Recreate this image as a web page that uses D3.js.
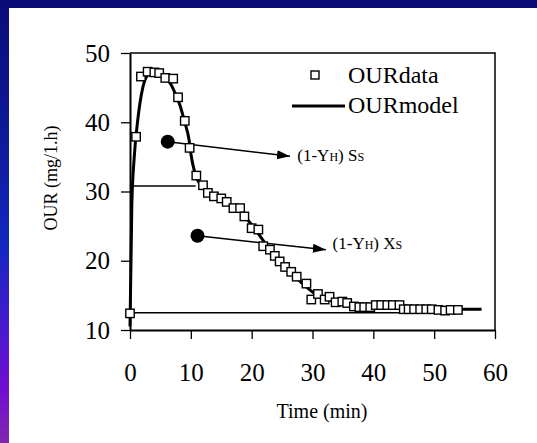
<!DOCTYPE html>
<html><head><meta charset="utf-8">
<script src="https://cdn.jsdelivr.net/npm/d3@7/dist/d3.min.js"></script>
<style>body{margin:0;background:#fff;}svg{display:block;}text{font-family:"Liberation Serif","Times New Roman",serif;fill:#000;}</style>
</head><body>
<svg id="c" width="537" height="443"></svg>
<script>
// ---- data ----
const obsTime = [0,1.0,1.8,2.9,4.0,4.8,5.8,7.1,7.9,9.0,9.8,10.9,12.0,12.8,13.8,15.0,15.9,17.0,18.1,18.8,20.0,21.1,21.9,23.0,23.8,24.6,25.5,26.5,27.4,29.0,29.8,30.9,32.0,32.8,33.8,34.9,35.7,36.8,37.7,38.5,39.5,40.4,41.3,42.3,43.2,44.3,45.0,45.8,46.7,47.7,48.7,49.6,50.7,51.8,52.7,53.9];
const obsOUR  = [12.4,37.9,46.6,47.3,47.2,47.1,46.4,46.3,43.6,40.2,36.3,32.3,30.9,29.8,29.3,29.0,28.5,27.6,27.6,26.4,24.7,24.5,22.1,21.6,20.7,19.9,19.1,18.4,17.7,16.7,14.4,15.2,14.4,14.8,14.0,14.1,13.9,13.4,13.3,13.3,13.3,13.6,13.6,13.6,13.6,13.6,13.0,13.0,13.0,13.0,13.0,13.0,12.9,12.8,12.9,12.9];
const modelTime = [0,0.3,0.7,1.3,2.1,2.9,3.8,5.0,6.0,7.0,8.2,9.0,9.7,10.0,10.6,11.2,12,14,16,18,20,22,24,26,28,30,32,34,37,40,45,50,57.8];
const modelOUR  = [10.5,28,35,40.5,45,46.8,47.3,47.2,46.5,45,42.5,40,37.5,35.5,32.9,31.5,30.6,29.2,28.3,27.2,25.2,22.8,20.5,18.6,17.0,15.5,14.6,14.0,13.6,13.3,13.1,13.0,13.0];
const xTicks = [0,10,20,30,40,50,60];
const yTicks = [10,20,30,40,50];
// reference levels and annotations (data units)
const refLevels = [{v:12.5,t0:0,t1:52},{v:30.8,t0:0,t1:10.8}];
const arrows = [
  {t0:6.2,v0:37.2,t1:26.3,v1:35.1,lab:"S",lt:27.5,lv:34.4},
  {t0:11.1,v0:23.6,t1:32.2,v1:21.6,lab:"X",lt:33.3,lv:21.7}
];

const svg = d3.select("#c");
// background frame
const grad = svg.append("defs").append("linearGradient").attr("id","lg").attr("x1",0).attr("y1",0).attr("x2",0).attr("y2",1);
[[0,"#0a0c78"],[0.35,"#0e1c9e"],[0.55,"#1428c0"],[0.75,"#4a18d0"],[0.88,"#700fd0"],[1,"#8028b0"]].forEach(s=>grad.append("stop").attr("offset",s[0]).attr("stop-color",s[1]));
svg.append("rect").attr("x",0).attr("y",0).attr("width",9).attr("height",443).attr("fill","url(#lg)");
svg.append("rect").attr("x",0).attr("y",0).attr("width",537).attr("height",8).attr("fill","#0a0c78");

const x = d3.scaleLinear().domain([0,60]).range([130,495]);
const y = d3.scaleLinear().domain([10,50]).range([330,53]);

// frame top/right
svg.append("path").attr("d",`M${x(0)},${y(50)}H${x(60)}V${y(10)}`).attr("fill","none").attr("stroke","#000").attr("stroke-width",1.5);

const xa = svg.append("g").attr("transform",`translate(0,${y(10)})`)
  .call(d3.axisBottom(x).tickValues(xTicks).tickSize(9).tickSizeOuter(0).tickPadding(24));
const ya = svg.append("g").attr("transform",`translate(${x(0)},0)`)
  .call(d3.axisLeft(y).tickValues(yTicks).tickSize(9).tickSizeOuter(0).tickPadding(11));
[xa,ya].forEach(a=>{a.select(".domain").attr("stroke","#000").attr("stroke-width",2);
  a.selectAll(".tick line").attr("stroke","#000").attr("stroke-width",1.3);
  a.selectAll("text").style("font-family",'"Liberation Serif",serif').style("font-size","25px").attr("fill","#000");});
xa.selectAll("text").attr("dy","0.71em");

// reference lines
svg.selectAll(".ref").data(refLevels).join("line")
  .attr("x1",d=>x(d.t0)).attr("x2",d=>x(d.t1)).attr("y1",d=>y(d.v)).attr("y2",d=>y(d.v))
  .attr("stroke","#000").attr("stroke-width",1.5);

// model line
const mdata = modelTime.map((t,i)=>[t,modelOUR[i]]);
svg.append("path").datum(mdata)
  .attr("d",d3.line().x(d=>x(d[0])).y(d=>y(d[1])).curve(d3.curveMonotoneX))
  .attr("fill","none").attr("stroke","#000").attr("stroke-width",3);

// arrows
svg.append("defs").append("marker").attr("id","ah").attr("viewBox","0 0 10 10").attr("refX",10).attr("refY",5)
  .attr("markerWidth",13).attr("markerHeight",13).attr("markerUnits","userSpaceOnUse").attr("orient","auto")
  .append("path").attr("d","M0,1.5L10,5L0,8.5Z").attr("fill","#000");
arrows.forEach(a=>{
  svg.append("line").attr("x1",x(a.t0)).attr("y1",y(a.v0)).attr("x2",x(a.t1)).attr("y2",y(a.v1))
    .attr("stroke","#000").attr("stroke-width",1.5).attr("marker-end","url(#ah)");
  svg.append("circle").attr("cx",x(a.t0)).attr("cy",y(a.v0)).attr("r",7).attr("fill","#000");
});

// data squares
const odata = obsTime.map((t,i)=>[t,obsOUR[i]]);
svg.selectAll(".sq").data(odata).join("rect")
  .attr("x",d=>x(d[0])-4.2).attr("y",d=>y(d[1])-4.2).attr("width",8.4).attr("height",8.4)
  .attr("fill","#fff").attr("stroke","#000").attr("stroke-width",1.4);

// annotation labels
arrows.forEach(a=>{
  const t = svg.append("text").attr("x",x(a.lt)).attr("y",y(a.lv)).style("font-size","17px");
  t.append("tspan").text("(1-Y");
  t.append("tspan").text("H").style("font-size","12px");
  t.append("tspan").text(") "+a.lab);
  t.append("tspan").text("S").style("font-size","12px");
});

// legend
svg.append("rect").attr("x",311).attr("y",71).attr("width",8).attr("height",8).attr("fill","#fff").attr("stroke","#000").attr("stroke-width",1.4);
svg.append("text").attr("x",348).attr("y",83).style("font-size","24px").text("OURdata");
svg.append("line").attr("x1",292).attr("x2",345).attr("y1",106).attr("y2",106).attr("stroke","#000").attr("stroke-width",3);
svg.append("text").attr("x",348).attr("y",113).style("font-size","24px").text("OURmodel");

// axis titles
svg.append("text").attr("x",322).attr("y",418).attr("text-anchor","middle").style("font-size","20px").text("Time (min)");
svg.append("text").attr("transform","translate(57,178) rotate(-90)").attr("text-anchor","middle").style("font-size","18px").text("OUR (mg/1.h)");
</script>
</body></html>
